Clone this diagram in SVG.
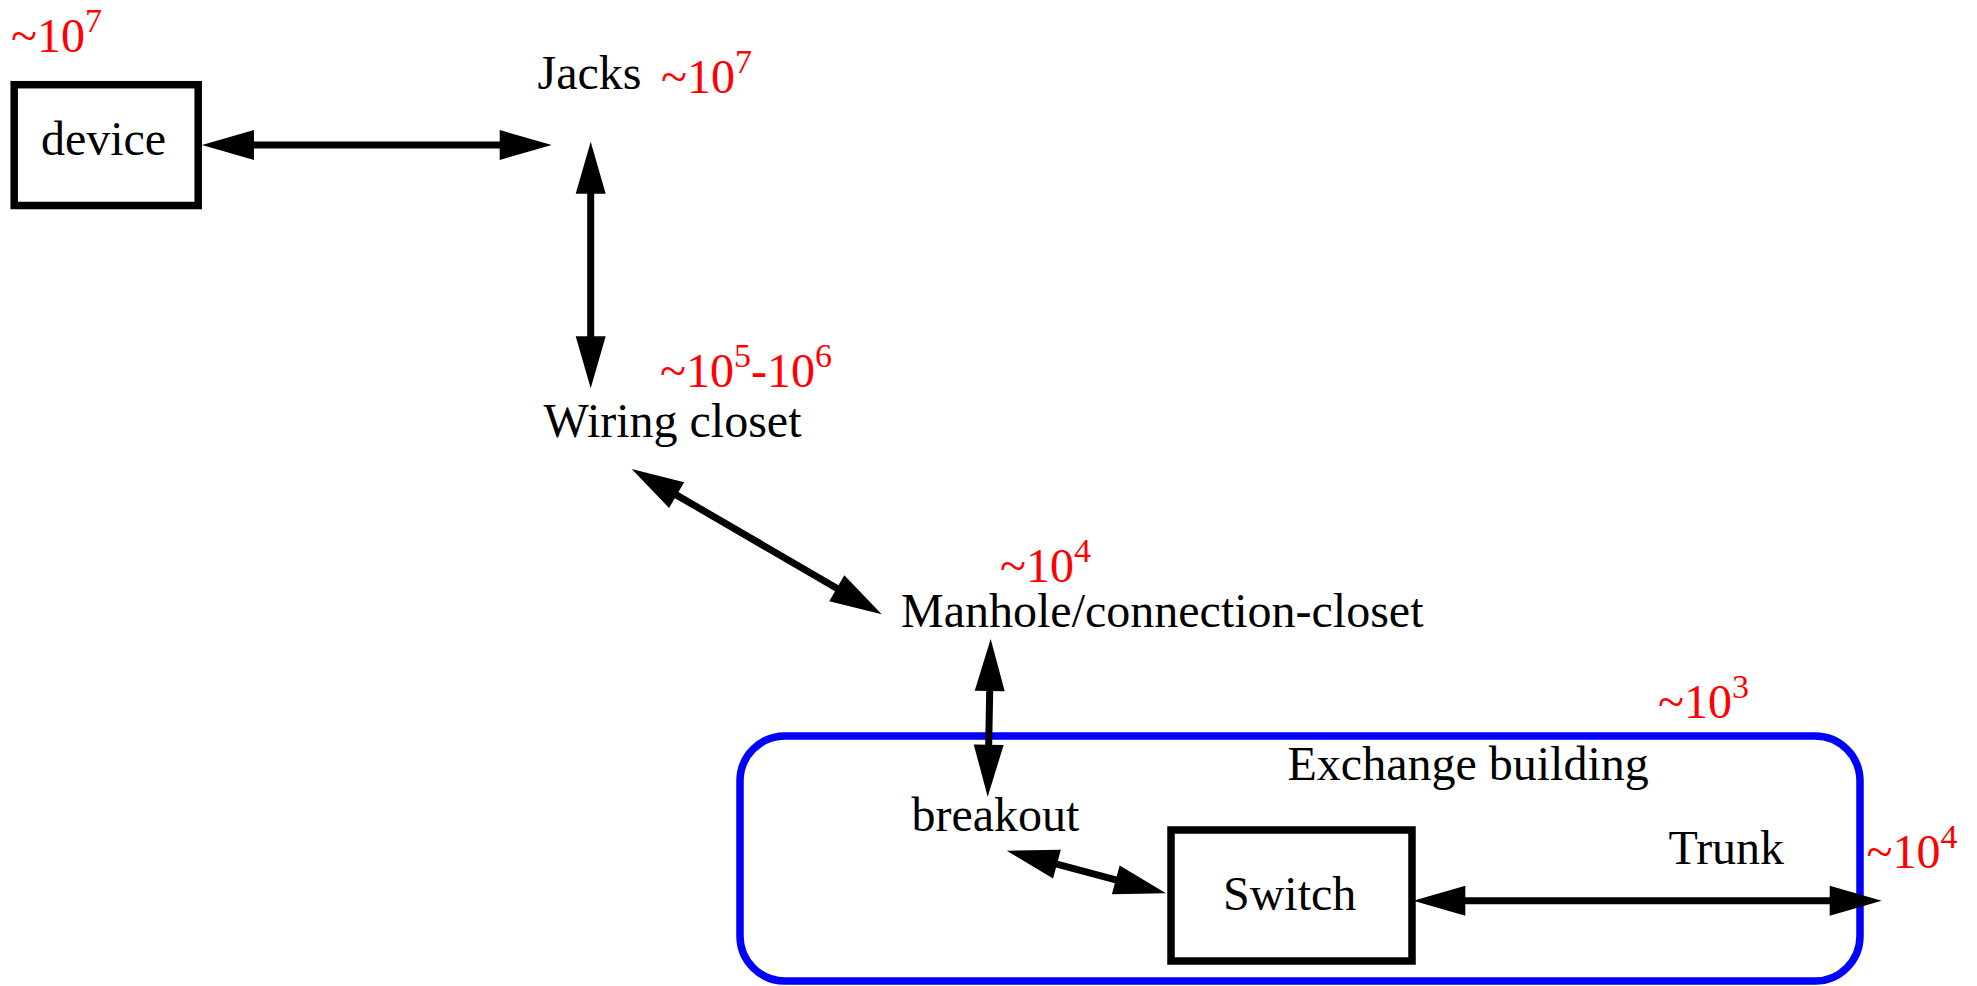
<svg xmlns="http://www.w3.org/2000/svg" width="1977" height="986" viewBox="0 0 1977 986">
<style>
  .lbl { font-family: "Liberation Serif", "Times New Roman", serif; font-size: 48px; fill: #000; }
  .red { font-family: "Liberation Serif", "Times New Roman", serif; font-size: 48px; fill: #ff0000; }
  .sup { font-size: 34px; }
  .box { fill: none; stroke: #000; stroke-width: 7.5; }
  .bldg { fill: none; stroke: #0000ff; stroke-width: 7.5; }
  .conn { fill: none; stroke: #000; stroke-width: 7; marker-start: url(#ah); marker-end: url(#ah); }
</style>
<defs>
  <marker id="ah" viewBox="0 0 52 30" markerUnits="userSpaceOnUse" markerWidth="52" markerHeight="30" refX="2" refY="15" orient="auto-start-reverse" overflow="visible">
    <path d="M0,0 L52,15 L0,30 z" fill="#000"/>
  </marker>
</defs>
<rect width="1977" height="986" fill="#fff"/>

<g id="building">
  <rect class="bldg" x="740" y="736" width="1120" height="245" rx="45" ry="45"/>
  <text class="lbl" x="1287.5" y="780">Exchange building</text>
  <text class="red" x="1658" y="718">~10<tspan class="sup" dy="-20">3</tspan></text>
</g>

<g id="device">
  <rect class="box" x="14.2" y="84.7" width="184" height="120.8"/>
  <text class="lbl" x="103.5" y="155" text-anchor="middle">device</text>
  <text class="red" x="11" y="52">~10<tspan class="sup" dy="-20">7</tspan></text>
</g>

<g id="jacks">
  <text class="lbl" x="537.5" y="89">Jacks</text>
  <text class="red" x="661" y="93">~10<tspan class="sup" dy="-20">7</tspan></text>
</g>

<g id="wiring-closet">
  <text class="lbl" x="543.5" y="437">Wiring closet</text>
  <text class="red" x="660" y="387">~10<tspan class="sup" dy="-20">5</tspan><tspan dy="20">-10</tspan><tspan class="sup" dy="-20">6</tspan></text>
</g>

<g id="manhole">
  <text class="lbl" x="901" y="627">Manhole/connection-closet</text>
  <text class="red" x="1000" y="582">~10<tspan class="sup" dy="-20">4</tspan></text>
</g>

<g id="breakout">
  <text class="lbl" x="911.5" y="831">breakout</text>
</g>

<g id="switch">
  <rect class="box" x="1171" y="830" width="241" height="131"/>
  <text class="lbl" x="1223" y="910">Switch</text>
</g>

<g id="trunk">
  <text class="lbl" x="1668.5" y="864">Trunk</text>
  <text class="red" x="1866.5" y="868">~10<tspan class="sup" dy="-20">4</tspan></text>
</g>

<g id="connectors">
  <line class="conn" x1="252" y1="145" x2="501.7" y2="145"/>
  <line class="conn" x1="590.7" y1="191.7" x2="590.7" y2="338.3"/>
  <line class="conn" x1="674.9" y1="494.1" x2="838.5" y2="589.2"/>
  <line class="conn" x1="989.75" y1="689" x2="988.65" y2="746.7"/>
  <line class="conn" x1="1055" y1="863.6" x2="1117.7" y2="880.4"/>
  <line class="conn" x1="1463.3" y1="900.7" x2="1831.7" y2="900.7"/>
</g>
</svg>
